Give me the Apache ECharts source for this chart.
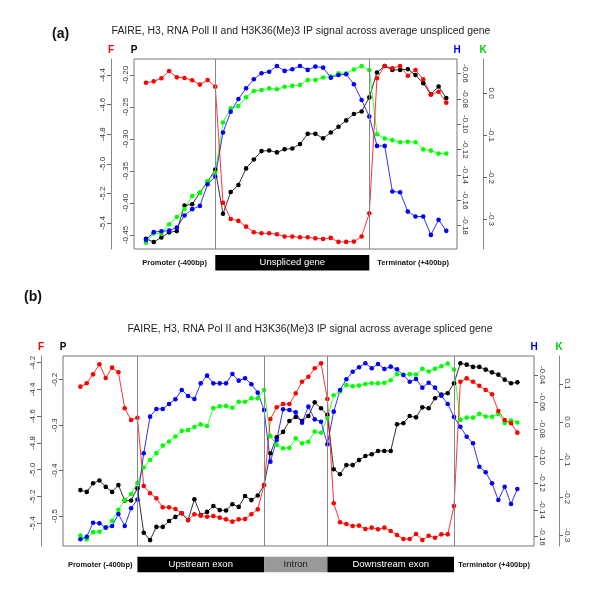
<!DOCTYPE html>
<html><head><meta charset="utf-8">
<script src="https://cdn.jsdelivr.net/npm/echarts@6/dist/echarts.min.js"></script>
<style>html,body{margin:0;padding:0;background:#fff}#c{width:600px;height:598px}</style>
</head><body><div id="c"></div>
<script>
// ---------- Panel (a): unspliced gene, 40 positions ----------
const aFaire = [-4.452,-4.443,-4.422,-4.373,-4.416,-4.420,-4.436,-4.465,-4.434,-4.479,
 -5.263,-5.373,-5.386,-5.425,-5.463,-5.470,-5.470,-5.476,-5.492,-5.492,
 -5.497,-5.497,-5.504,-5.508,-5.501,-5.528,-5.528,-5.526,-5.492,-5.335,
 -4.422,-4.339,-4.355,-4.339,-4.405,-4.366,-4.429,-4.533,-4.513,-4.587];
const aPol = [-0.456,-0.461,-0.454,-0.446,-0.444,-0.404,-0.402,-0.384,-0.367,-0.348,
 -0.417,-0.383,-0.372,-0.346,-0.332,-0.319,-0.318,-0.321,-0.316,-0.315,
 -0.308,-0.292,-0.292,-0.299,-0.290,-0.281,-0.271,-0.261,-0.257,-0.235,
 -0.196,-0.186,-0.192,-0.192,-0.191,-0.200,-0.213,-0.230,-0.218,-0.236];
const aH3 = [-0.1912,-0.1851,-0.1844,-0.1839,-0.1815,-0.1720,-0.1670,-0.1644,-0.1473,-0.1413,
 -0.1066,-0.0901,-0.0801,-0.0717,-0.0646,-0.0598,-0.0586,-0.0541,-0.0580,-0.0567,
 -0.0541,-0.0572,-0.0546,-0.0554,-0.0633,-0.0612,-0.0606,-0.0685,-0.0809,-0.0940,
 -0.1171,-0.1171,-0.1531,-0.1536,-0.1689,-0.1728,-0.1728,-0.1873,-0.1754,-0.1841];
const aK36 = [-0.356,-0.334,-0.334,-0.312,-0.295,-0.276,-0.245,-0.237,-0.210,-0.189,
 -0.070,-0.036,-0.031,-0.010,0.005,0.007,0.011,0.009,0.015,0.017,
 0.019,0.031,0.031,0.037,0.039,0.047,0.047,0.056,0.064,0.055,
 -0.098,-0.108,-0.112,-0.117,-0.116,-0.117,-0.134,-0.137,-0.144,-0.144];
const aBounds = [9, 29];
const aRegionNames = ['Unspliced gene'];
const aTicksF = [-5.4,-5.2,-5.0,-4.8,-4.6,-4.4];
const aTicksP = [-0.45,-0.40,-0.35,-0.30,-0.25,-0.20];
const aTicksH = [-0.18,-0.16,-0.14,-0.12,-0.10,-0.08,-0.06];
const aTicksK = [-0.3,-0.2,-0.1,0.0];

// ---------- Panel (b): spliced gene, 70 positions ----------
const bFaire = [-4.379,-4.354,-4.287,-4.212,-4.314,-4.237,-4.272,-4.541,-4.628,-4.611,
 -5.122,-5.176,-5.214,-5.281,-5.281,-5.294,-5.326,-5.376,-5.333,-5.343,
 -5.351,-5.346,-5.358,-5.371,-5.388,-5.371,-5.368,-5.333,-5.296,-5.114,
 -4.621,-4.533,-4.509,-4.509,-4.429,-4.342,-4.305,-4.242,-4.205,-4.471,
 -5.251,-5.393,-5.406,-5.420,-5.418,-5.443,-5.433,-5.445,-5.433,-5.458,
 -5.488,-5.518,-5.518,-5.480,-5.525,-5.493,-5.508,-5.483,-5.483,-5.271,
 -4.342,-4.317,-4.342,-4.372,-4.404,-4.436,-4.561,-4.628,-4.653,-4.723];
const bPol = [-0.443,-0.447,-0.428,-0.422,-0.436,-0.447,-0.432,-0.466,-0.466,-0.439,
 -0.537,-0.553,-0.524,-0.524,-0.511,-0.502,-0.494,-0.509,-0.463,-0.498,
 -0.491,-0.478,-0.487,-0.488,-0.474,-0.480,-0.456,-0.465,-0.455,-0.432,
 -0.362,-0.327,-0.315,-0.291,-0.282,-0.291,-0.280,-0.250,-0.263,-0.278,
 -0.397,-0.408,-0.388,-0.388,-0.377,-0.368,-0.364,-0.357,-0.357,-0.357,
 -0.298,-0.296,-0.280,-0.283,-0.261,-0.263,-0.241,-0.233,-0.230,-0.208,
 -0.164,-0.167,-0.172,-0.172,-0.178,-0.184,-0.189,-0.200,-0.208,-0.206];
const bH3 = [-0.1619,-0.1600,-0.1496,-0.1501,-0.1533,-0.1521,-0.1432,-0.1521,-0.1389,-0.1324,
 -0.0981,-0.0709,-0.0652,-0.0652,-0.0615,-0.0580,-0.0511,-0.0556,-0.0578,-0.0462,
 -0.0405,-0.0462,-0.0462,-0.0462,-0.0393,-0.0442,-0.0424,-0.0469,-0.0531,-0.0660,
 -0.1043,-0.0882,-0.0655,-0.0660,-0.0677,-0.0754,-0.0635,-0.0729,-0.0747,-0.0914,
 -0.0672,-0.0511,-0.0432,-0.0376,-0.0343,-0.0313,-0.0350,-0.0318,-0.0355,-0.0338,
 -0.0358,-0.0400,-0.0450,-0.0430,-0.0494,-0.0457,-0.0494,-0.0554,-0.0615,-0.0712,
 -0.0784,-0.0858,-0.0907,-0.1081,-0.1122,-0.1204,-0.1328,-0.1229,-0.1357,-0.1246];
const bK36 = [-0.301,-0.311,-0.292,-0.291,-0.279,-0.262,-0.233,-0.207,-0.191,-0.162,
 -0.121,-0.101,-0.083,-0.063,-0.052,-0.039,-0.024,-0.022,-0.014,-0.007,
 -0.011,0.036,0.041,0.042,0.037,0.053,0.053,0.062,0.062,0.084,
 -0.038,-0.061,-0.070,-0.069,-0.044,-0.057,-0.053,-0.026,-0.029,0.010,
 0.070,0.080,0.097,0.094,0.096,0.100,0.102,0.102,0.103,0.110,
 0.126,0.125,0.126,0.125,0.140,0.133,0.140,0.147,0.154,0.138,
 0.005,0.011,0.011,0.021,0.014,0.013,0.021,-0.003,0.003,-0.002];
const bBounds = [9, 29, 39, 59];
const bRegionNames = ['Upstream exon', 'Intron', 'Downstream exon'];
const bTicksF = [-5.4,-5.2,-5.0,-4.8,-4.6,-4.4,-4.2];
const bTicksP = [-0.5,-0.4,-0.3,-0.2];
const bTicksH = [-0.16,-0.14,-0.12,-0.10,-0.08,-0.06,-0.04];
const bTicksK = [-0.3,-0.2,-0.1,0.0,0.1];

const titleA = 'FAIRE, H3, RNA Poll II and H3K36(Me)3 IP signal across average unspliced gene';
const titleB = 'FAIRE, H3, RNA Pol II and H3K36(Me)3 IP signal across average spliced gene';

// ---------- layout ----------
const FONT = 'Liberation Sans, Arial, sans-serif';
const grids = [
  {left: 134, top: 59, width: 323, height: 190},
  {left: 63, top: 356, width: 471, height: 190}
];
const xr = [[-1.558, 40.39], [-2.75, 71.63]];
const ranges = [
  {F: [-5.576, -4.292], P: [-0.472, -0.175], H: [-0.1984, -0.0486], K: [-0.371, 0.081]},
  {F: [-5.57, -4.15], P: [-0.566, -0.148], H: [-0.1669, -0.0259], K: [-0.3286, 0.174]}
];
const offF = [23, 22], offK = [26, 25];

function yAx(g, pos, offset, rng, ticks, dec, name, col, showLine, rot) {
  return {
    type: 'value', gridIndex: g, position: pos, offset: offset,
    min: rng[0], max: rng[1], name: name, nameLocation: 'end', nameGap: 4,
    nameTextStyle: {color: col, fontWeight: 'bold', fontSize: 10, fontFamily: FONT, align: 'center'},
    axisLine: {show: showLine, onZero: false, lineStyle: {color: '#888', width: 1}},
    axisTick: {show: true, customValues: ticks, length: 4, lineStyle: {color: '#666'}},
    axisLabel: {customValues: ticks, formatter: v => v.toFixed(dec), rotate: rot,
      fontSize: 8, color: '#333', fontFamily: FONT, margin: 4},
    splitLine: {show: false}
  };
}
const yAxes = [];
const decA = {F: 1, P: 2, H: 2, K: 1}, decB = {F: 1, P: 1, H: 2, K: 1};
[[aTicksF, aTicksP, aTicksH, aTicksK, decA], [bTicksF, bTicksP, bTicksH, bTicksK, decB]].forEach((t, g) => {
  yAxes.push(yAx(g, 'left', offF[g], ranges[g].F, t[0], t[4].F, 'F', '#ff0000', true, 90));
  yAxes.push(yAx(g, 'left', 0, ranges[g].P, t[1], t[4].P, 'P', '#000000', false, 90));
  yAxes.push(yAx(g, 'right', 0, ranges[g].H, t[2], t[4].H, 'H', '#0000ff', false, -90));
  yAxes.push(yAx(g, 'right', offK[g], ranges[g].K, t[3], t[4].K, 'K', '#00cc00', true, -90));
});
const xAxes = [0, 1].map(g => ({
  type: 'value', gridIndex: g, min: xr[g][0], max: xr[g][1],
  axisLine: {show: false}, axisTick: {show: false}, axisLabel: {show: false}, splitLine: {show: false}
}));

function ser(g, yi, vals, color, bounds) {
  const s = {
    type: 'line', xAxisIndex: g, yAxisIndex: g * 4 + yi,
    data: vals.map((v, i) => [i, v]),
    symbol: 'circle', symbolSize: 4.6, showSymbol: true,
    itemStyle: {color: color}, lineStyle: {color: color, width: 1, opacity: 0.8},
    animation: false, silent: true
  };
  if (bounds) {
    s.markLine = {silent: true, symbol: ['none', 'none'], label: {show: false},
      lineStyle: {color: '#888', width: 1, type: 'solid'},
      data: bounds.map(b => ({xAxis: b}))};
  }
  return s;
}
const series = [
  ser(0, 1, aPol, '#000000', aBounds), ser(0, 3, aK36, '#00ff00'), ser(0, 2, aH3, '#0000ff'), ser(0, 0, aFaire, '#ff0000'),
  ser(1, 1, bPol, '#000000', bBounds), ser(1, 3, bK36, '#00ff00'), ser(1, 2, bH3, '#0000ff'), ser(1, 0, bFaire, '#ff0000')
];

const chart = echarts.init(document.getElementById('c'), null, {renderer: 'canvas'});
chart.setOption({
  animation: false,
  backgroundColor: '#ffffff',
  title: [
    {text: titleA, left: 296, top: 21, textAlign: 'center', textStyle: {fontSize: 10.45, fontWeight: 'normal', color: '#222', fontFamily: FONT}},
    {text: titleB, left: 305, top: 319, textAlign: 'center', textStyle: {fontSize: 10.45, fontWeight: 'normal', color: '#222', fontFamily: FONT}},
    {text: '(a)', left: 47, top: 22, textStyle: {fontSize: 14, fontWeight: 'bold', color: '#111', fontFamily: FONT}},
    {text: '(b)', left: 19, top: 285, textStyle: {fontSize: 14, fontWeight: 'bold', color: '#111', fontFamily: FONT}}
  ],
  grid: grids.map(g => Object.assign({show: true, borderColor: '#777', borderWidth: 1, backgroundColor: 'transparent', containLabel: false}, g)),
  xAxis: xAxes,
  yAxis: yAxes,
  series: series
});

// ---------- region annotation bars below each panel ----------
function regionGraphics(g, bounds, names, barGap) {
  const px = x => chart.convertToPixel({xAxisIndex: g}, x);
  const G = grids[g];
  const y0 = G.top + G.height + barGap, h = 15.5, yc = y0 + h / 2;
  const out = [];
  const edges = [xr[g][0]].concat(bounds).concat([xr[g][1]]);
  names.forEach((n, i) => {
    const x1 = px(bounds[i]), x2 = px(bounds[i + 1]);
    const isIntron = n === 'Intron';
    out.push({type: 'rect', shape: {x: x1, y: y0, width: x2 - x1, height: h},
      style: {fill: isIntron ? '#999999' : '#000000'}, silent: true});
    out.push({type: 'text', style: {text: n, x: (x1 + x2) / 2, y: yc, align: 'center', verticalAlign: 'middle',
      fill: isIntron ? '#222' : '#fff', fontSize: 9.5, fontFamily: FONT}, silent: true});
  });
  const pL = (px(edges[0]) + px(edges[1])) / 2;
  const pR = (px(edges[edges.length - 2]) + px(edges[edges.length - 1])) / 2;
  out.push({type: 'text', style: {text: 'Promoter (-400bp)', x: pL, y: yc, align: 'center', verticalAlign: 'middle',
    fill: '#111', fontSize: 7.5, fontWeight: 'bold', fontFamily: FONT}, silent: true});
  out.push({type: 'text', style: {text: 'Terminator (+400bp)', x: pR, y: yc, align: 'center', verticalAlign: 'middle',
    fill: '#111', fontSize: 7.5, fontWeight: 'bold', fontFamily: FONT}, silent: true});
  return out;
}
chart.setOption({graphic: regionGraphics(0, aBounds, aRegionNames, 6).concat(regionGraphics(1, bBounds, bRegionNames, 10.7))});
</script>
</body></html>
